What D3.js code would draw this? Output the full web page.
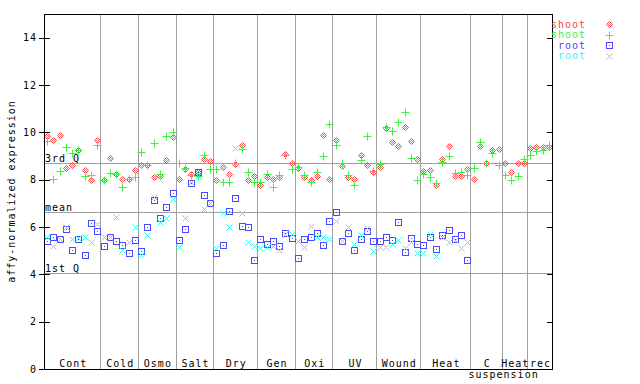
<!DOCTYPE html>
<html>
<head>
<meta charset="utf-8">
<script src="https://cdn.jsdelivr.net/npm/d3@7"></script>
<style>
  html, body { margin: 0; padding: 0; background: #fff; }
  svg text { font-family: "DejaVu Sans Mono", monospace; font-size: 10px; letter-spacing: 1px; }
</style>
</head>
<body>
<svg id="chart" width="640" height="384"></svg>
<script>
// groups along the x axis (label, number of samples)
const groupLabels = ["Cont", "Cold", "Osmo", "Salt", "Dry", "Gen", "Oxi", "UV", "Wound", "Heat", "C\nsuspension", "Heat", "rec"];
const groupSizes = [9, 6, 6, 6, 7, 6, 6, 7, 7, 8, 5, 4, 4];

// shoot / root values per sample
const shootRed = [
  9.86, 9.66, 9.89, 8.48, 8.61, 9.24, 8.39, 7.97, 9.66,
  7.97, 8.90, 8.24, 8.01, 8.01, 8.39,
  8.62, 8.62, 8.10, 8.14, 8.82, 9.79,
  8.04, 8.44, 8.24, 8.34, 8.88, 8.77,
  7.97, 8.52, 8.24, 8.66, 9.46, 7.97, 8.14,
  7.76, 8.10, 8.01, 8.10, 9.08, 8.69,
  8.48, 8.10, 7.97, 8.14, 9.87, 8.01,
  9.67, 8.56, 8.10, 8.01, 9.03, 8.61, 8.31,
  8.52, 10.18, 9.58, 9.41, 10.21, 9.62, 8.86,
  8.35, 8.39, 7.76, 8.86, 9.41, 8.14, 8.14, 8.44,
  8.01, 9.41, 8.70, 9.25, 9.28,
  8.70, 8.32, 8.70, 8.70,
  9.32, 9.38, 9.38, 9.37
];
const shootGreen = [
  9.63, 8.01, 8.35, 9.37, 9.13, 9.24, 8.14, 8.20, 9.45,
  7.97, 8.27, 8.24, 7.68, 8.04, 8.10,
  9.16, 8.62, 9.54, 8.24, 9.84, 10.00,
  8.69, 8.48, 8.20, 8.14, 9.03, 8.44,
  8.44, 7.91, 7.91, 8.69, 9.28, 8.31, 7.91,
  7.89, 8.24, 7.68, 8.20, 9.04, 8.44,
  8.52, 8.18, 7.89, 8.34, 8.99, 10.34,
  9.45, 8.69, 8.18, 7.76, 8.82, 9.83, 8.35,
  8.67, 10.24, 10.04, 10.42, 10.85, 8.90, 7.97,
  8.23, 8.10, 7.85, 8.73, 8.99, 8.27, 8.31, 8.18,
  8.48, 9.58, 8.70, 9.11, 8.61,
  8.18, 7.97, 8.14, 8.86,
  9.04, 9.20, 9.24, 9.48
];
const rootBlue = [
  5.41, 5.56, 5.48, 5.91, 5.03, 5.50, 4.82, 6.16, 5.83,
  5.20, 5.56, 5.41, 5.23, 4.89, 5.45,
  4.99, 5.99, 7.14, 6.37, 6.83, 7.42,
  5.44, 5.90, 7.87, 8.32, 7.34, 7.00,
  4.89, 5.23, 6.66, 7.21, 6.03, 5.99, 4.59,
  5.48, 5.27, 5.40, 5.18, 5.73, 5.52,
  4.68, 5.48, 5.56, 5.73, 5.23, 6.24,
  6.62, 5.40, 5.73, 5.01, 5.48, 5.82, 5.40,
  5.40, 5.56, 5.44, 6.20, 4.93, 5.52, 5.27,
  5.23, 5.58, 5.06, 5.65, 5.86, 5.48, 5.65, 4.59
];
const rootCyan = [
  5.58, 5.20, 5.48, 5.99, 5.48, 5.53, 5.56, 5.37, 6.11,
  5.59, 5.56, 6.41, 5.03, 5.37, 6.01,
  4.82, 5.65, 7.25, 6.22, 6.37, 7.17,
  5.15, 6.37, 7.90, 8.15, 6.75, 7.00,
  5.11, 6.58, 5.99, 9.32, 6.58, 5.35, 5.18,
  5.10, 5.14, 5.18, 5.03, 5.69, 5.69,
  5.40, 5.14, 6.03, 5.56, 5.56, 5.48,
  6.24, 5.40, 5.99, 5.27, 5.65, 5.94, 4.97,
  5.15, 5.15, 5.27, 5.44, 5.10, 5.35, 4.89,
  4.89, 5.69, 4.79, 5.56, 5.35, 5.45, 5.10, 5.35
];

const seriesNames = ["shoot", "shoot", "root", "root"];
const seriesColors = ["#ff4040", "#40f040", "#4848ff", "#40f0f0"];
const seriesShapes = ["diamond", "plus", "square", "cross"];

// reference lines
const refValues = [8.71, 6.64, 4.06];
const refLabels = ["3rd Q", "mean", "1st Q"];

const yTicks = [0, 2, 4, 6, 8, 10, 12, 14];

// ---- layout ----
const svg = d3.select("#chart");
const plotL = 44, plotR = 552, plotT = 14, plotB = 369;
const nSamples = d3.sum(groupSizes);

const x = d3.scaleLinear().domain([0, nSamples]).range([plotL, plotR]);
const y = d3.scaleLinear().domain([0, 15]).range([plotB, plotT]);
const px = v => Math.round(v) + 0.5;

const gGrid = svg.append("g");
const gPts = svg.append("g");
const gAxis = svg.append("g");

// group boundaries
const starts = [];
let acc = 0;
groupSizes.forEach(n => { starts.push(acc); acc += n; });

gGrid.selectAll("line.div")
  .data(starts.slice(1))
  .join("line")
  .attr("x1", d => px(x(d))).attr("x2", d => px(x(d)))
  .attr("y1", plotT).attr("y2", plotB)
  .attr("stroke", "#a0a0a0").attr("stroke-width", 1);

gGrid.selectAll("line.ref")
  .data(refValues)
  .join("line")
  .attr("x1", plotL).attr("x2", plotR)
  .attr("y1", d => px(y(d))).attr("y2", d => px(y(d)))
  .attr("stroke", "#a0a0a0").attr("stroke-width", 1);

gGrid.selectAll("text.ref")
  .data(refValues)
  .join("text")
  .attr("x", plotL + 1)
  .attr("y", d => Math.round(y(d)) - 1.5)
  .attr("fill", "#000")
  .text((d, i) => refLabels[i]);

// markers
function marker(sel, shape, color) {
  sel.attr("fill", "none").attr("stroke", color).attr("stroke-width", 1);
  if (shape === "diamond") {
    sel.append("path").attr("d", "M0,-3L3,0L0,3L-3,0Z");
    sel.append("path").attr("d", "M0,-1L1,0L0,1L-1,0Z");
  } else if (shape === "plus") {
    sel.append("path").attr("d", "M-4,0H4M0,-4V4");
  } else if (shape === "square") {
    sel.append("rect").attr("x", -3).attr("y", -3).attr("width", 6).attr("height", 6);
    sel.append("rect").attr("x", -0.5).attr("y", -0.5).attr("width", 1).attr("height", 1)
      .attr("fill", color).attr("stroke", "none");
  } else {
    sel.append("path").attr("d", "M-3,-3L3,3M-3,3L3,-3");
  }
}

const allSeries = [shootRed, shootGreen, rootBlue, rootCyan];
allSeries.forEach((vals, s) => {
  const pts = vals.map((v, i) => ({ i, v })).filter(d => d.v != null);
  gPts.selectAll("g.s" + s)
    .data(pts)
    .join("g")
    .attr("class", "s" + s)
    .attr("transform", d => `translate(${px(x(d.i + 0.5))},${px(y(d.v))})`)
    .each(function() { marker(d3.select(this), seriesShapes[s], seriesColors[s]); });
});

// frame
gAxis.append("rect")
  .attr("x", plotL + 0.5).attr("y", plotT + 0.5)
  .attr("width", plotR - plotL).attr("height", plotB - plotT)
  .attr("fill", "none").attr("stroke", "#000");

// y ticks, both sides
gAxis.selectAll("line.tl")
  .data(yTicks)
  .join("line")
  .attr("x1", plotL - 5).attr("x2", plotL + 6)
  .attr("y1", d => px(y(d))).attr("y2", d => px(y(d)))
  .attr("stroke", "#000");
gAxis.selectAll("line.tr")
  .data(yTicks)
  .join("line")
  .attr("x1", plotR - 5).attr("x2", plotR)
  .attr("y1", d => px(y(d))).attr("y2", d => px(y(d)))
  .attr("stroke", "#000");
gAxis.selectAll("text.yt")
  .data(yTicks)
  .join("text")
  .attr("x", 37)
  .attr("y", d => y(d))
  .attr("dy", "0.35em")
  .attr("text-anchor", "end")
  .text(d => d);

gAxis.append("text")
  .attr("transform", `translate(15,${(plotT + plotB) / 2}) rotate(-90)`)
  .attr("text-anchor", "middle")
  .text("affy-normalized expression");

// group labels
groupLabels.forEach((lab, g) => {
  const cx = x(starts[g] + groupSizes[g] / 2);
  const lines = lab.split("\n");
  gAxis.append("text")
    .attr("x", cx + 1).attr("y", 367)
    .attr("text-anchor", "middle")
    .text(lines[0]);
  if (lines[1]) {
    gAxis.append("text")
      .attr("x", x(starts[g]) - 2).attr("y", 378)
      .text(lines[1]);
  }
});

// legend
const legend = svg.append("g");
seriesNames.forEach((name, s) => {
  const ly = 27.5 + s * 10.5;
  legend.append("text")
    .attr("x", 586).attr("y", ly)
    .attr("text-anchor", "end")
    .attr("fill", seriesColors[s])
    .text(name);
  const m = legend.append("g").attr("transform", `translate(609.5,${Math.round(ly - 3.5) + 0.5})`);
  marker(m, seriesShapes[s], seriesColors[s]);
});
</script>
</body>
</html>
